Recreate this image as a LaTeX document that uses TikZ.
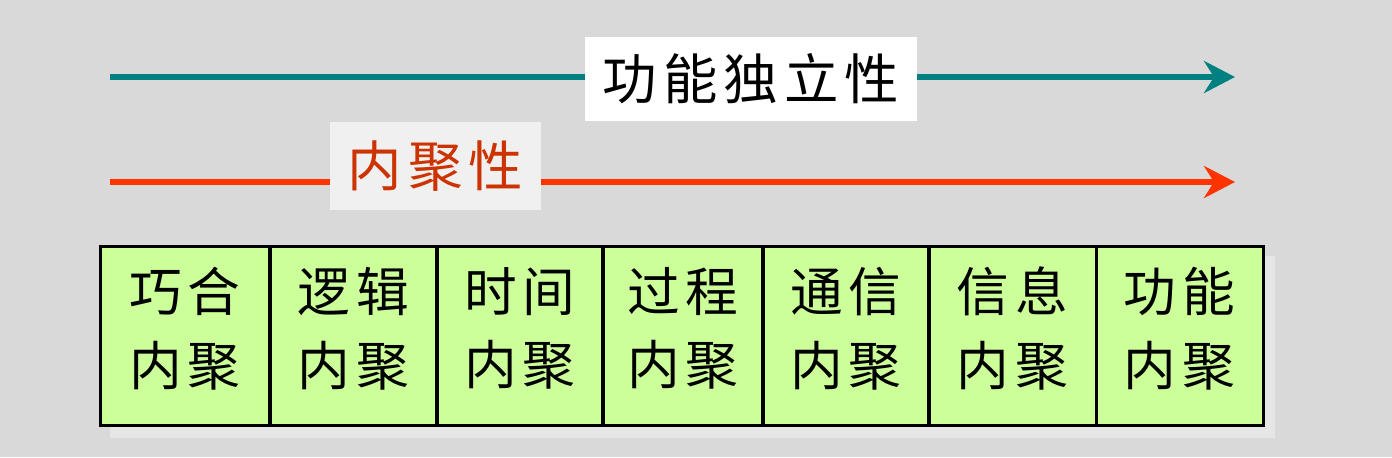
\documentclass[tikz,border=0pt]{standalone}
\usepackage{fontspec}
\setmainfont{Noto Sans CJK SC}
\newfontfamily\spacedcjk[LetterSpace=11]{Noto Sans CJK SC}
\usetikzlibrary{arrows.meta}
\definecolor{bggray}{HTML}{D9D9D9}
\definecolor{shadowgray}{HTML}{E6E6E6}
\definecolor{tealline}{HTML}{008080}
\definecolor{redline}{HTML}{FF3300}
\definecolor{redtext}{HTML}{CC3300}
\definecolor{labelgray}{HTML}{F0F0F0}
\definecolor{cellgreen}{HTML}{CCFF99}

\begin{document}
\begin{tikzpicture}[x=0.02cm,y=-0.02cm]
		\tikzstyle{axis} = [line width=0.12cm, -{Stealth[length=0.62cm, width=0.64cm, inset=0.2cm]}]
		\tikzstyle{label} = [inner sep=0pt, font=\spacedcjk\fontsize{31}{31}\selectfont]
		\tikzstyle{cell} = [draw, line width=0.06cm, fill=cellgreen, minimum height=3.6cm, inner sep=0pt, text depth=0.4cm, align=center, font=\spacedcjk\fontsize{30}{42}\selectfont]
		\fill[bggray] (0,0) rectangle (1392,457);
		\useasboundingbox (0,0) rectangle (1392,457);

		% arrows
		\coordinate (fs) at (110,77);
		\coordinate (fe) at (1235,77);
		\coordinate (cs) at (110,182);
		\coordinate (ce) at (1235,182);
		\draw[axis, tealline] (fs) -- (fe);
		\draw[axis, redline] (cs) -- (ce);
		\node [label, fill=white, minimum width=6.64cm, minimum height=1.68cm] (indep) at (751,79) {功能独立性};
		\node [label, fill=labelgray, text=redtext, minimum width=4.22cm, minimum height=1.76cm] (cohes) at (435.5,166) {内聚性};

		% cells
		\fill[shadowgray] (110,256) rectangle (1275,438);
		\node [cell, minimum width=3.4cm] (c1) at (185,336) {巧合\\内聚};
		\node [cell, minimum width=3.34cm] (c2) at (353.5,336) {逻辑\\内聚};
		\node [cell, minimum width=3.32cm] (c3) at (520,336) {时间\\内聚};
		\node [cell, minimum width=3.2cm] (c4) at (683,336) {过程\\内聚};
		\node [cell, minimum width=3.32cm] (c5) at (846,336) {通信\\内聚};
		\node [cell, minimum width=3.34cm] (c6) at (1012.5,336) {信息\\内聚};
		\node [cell, minimum width=3.34cm] (c7) at (1179.5,336) {功能\\内聚};
	\end{tikzpicture}
\end{document}
